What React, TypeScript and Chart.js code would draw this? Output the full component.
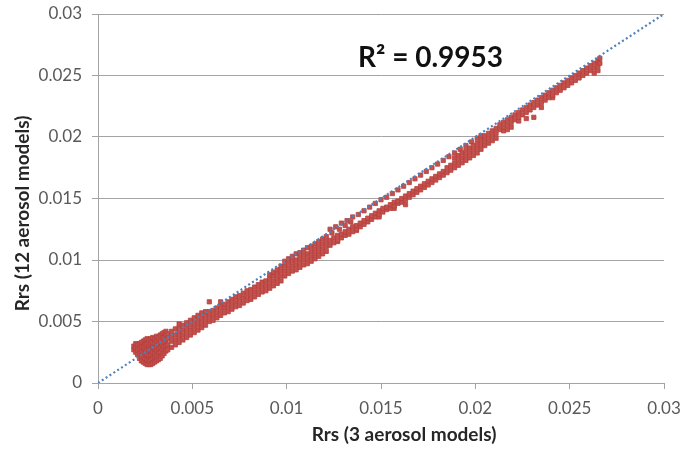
import React, { useEffect, useRef } from 'react';
import { Chart, registerables } from 'chart.js';

Chart.register(...registerables);

// ---------- data ----------
const axisMin = 0;
const axisMax = 0.03;
const tickStep = 0.005;
const tickLabels = ['0', '0.005', '0.01', '0.015', '0.02', '0.025', '0.03'];
const xTitle = 'Rrs (3 aerosol models)';
const yTitle = 'Rrs (12 aerosol models)';
const r2Label = 'R² = 0.9953';
const oneToOneX = [0, 0.03];
const oneToOneY = [0, 0.03];

// each entry: [x, list of y values observed at that x]
const blobColumns: [number, number[]][] = [
  [0.0019, [0.0027, 0.0030]],
  [0.0020, [0.0025, 0.0029, 0.0032]],
  [0.0021, [0.0023, 0.0027, 0.0031]],
  [0.0022, [0.0020, 0.0024, 0.0028, 0.0032]],
  [0.0023, [0.0018, 0.0022, 0.0026, 0.0030, 0.0033]],
  [0.0024, [0.0017, 0.0021, 0.0025, 0.0029, 0.0034]],
  [0.0025, [0.0016, 0.0020, 0.0024, 0.0028, 0.0031, 0.0035]],
  [0.0026, [0.0015, 0.0019, 0.0023, 0.0027, 0.0032, 0.0036]],
  [0.0027, [0.0015, 0.0018, 0.0022, 0.0026, 0.0030, 0.0035]],
  [0.0028, [0.0015, 0.0019, 0.0023, 0.0027, 0.0031, 0.0036]],
  [0.0029, [0.0016, 0.0020, 0.0025, 0.0029, 0.0033, 0.0037]],
  [0.0030, [0.0017, 0.0021, 0.0024, 0.0028, 0.0032, 0.0036]],
  [0.0031, [0.0018, 0.0022, 0.0026, 0.0030, 0.0034, 0.0038]],
  [0.0032, [0.0019, 0.0024, 0.0028, 0.0032, 0.0037]],
  [0.0033, [0.0020, 0.0025, 0.0029, 0.0033, 0.0039]],
  [0.0034, [0.0022, 0.0027, 0.0031, 0.0035, 0.0040]],
  [0.0035, [0.0024, 0.0029, 0.0033, 0.0037, 0.0041]],
  [0.0036, [0.0026, 0.0030, 0.0034, 0.0039, 0.0042]],
  [0.0037, [0.0027, 0.0031, 0.0036, 0.0040]],
];

const lowBandColumns: [number, number[]][] = [
  [0.0039, [0.0029, 0.0034, 0.0038, 0.0042]],
  [0.0041, [0.0031, 0.0035, 0.0039, 0.0044]],
  [0.0043, [0.0033, 0.0037, 0.0041, 0.0045, 0.0048]],
  [0.0045, [0.0035, 0.0039, 0.0043, 0.0047]],
  [0.0047, [0.0037, 0.0041, 0.0045, 0.0049]],
  [0.0049, [0.0039, 0.0043, 0.0047, 0.0051]],
  [0.0051, [0.0041, 0.0045, 0.0049, 0.0053]],
  [0.0053, [0.0043, 0.0047, 0.0051, 0.0055]],
  [0.0055, [0.0045, 0.0049, 0.0053, 0.0057]],
  [0.0057, [0.0047, 0.0051, 0.0055, 0.0058]],
  [0.0059, [0.0050, 0.0054, 0.0058, 0.0066]],
  [0.0061, [0.0051, 0.0055, 0.0059]],
  [0.0063, [0.0053, 0.0057, 0.0061]],
  [0.0065, [0.0055, 0.0059, 0.0063, 0.0066]],
  [0.0067, [0.0057, 0.0061, 0.0064]],
  [0.0069, [0.0058, 0.0062, 0.0066]],
  [0.0071, [0.0060, 0.0064, 0.0068]],
  [0.0073, [0.0062, 0.0066, 0.0070]],
  [0.0075, [0.0063, 0.0067, 0.0071]],
  [0.0077, [0.0065, 0.0069, 0.0073]],
  [0.0079, [0.0067, 0.0071, 0.0075]],
  [0.0081, [0.0068, 0.0072, 0.0076]],
  [0.0083, [0.0070, 0.0074, 0.0078]],
  [0.0085, [0.0072, 0.0076, 0.0080]],
  [0.0087, [0.0074, 0.0078, 0.0082]],
  [0.0089, [0.0075, 0.0079, 0.0083]],
  [0.0091, [0.0077, 0.0081, 0.0085, 0.0088]],
  [0.0093, [0.0079, 0.0083, 0.0087, 0.0090]],
  [0.0095, [0.0081, 0.0085, 0.0089, 0.0092]],
];

const jumpColumns: [number, number[]][] = [
  [0.0097, [0.0083, 0.0087, 0.0091, 0.0095]],
  [0.0099, [0.0087, 0.0091, 0.0095, 0.0099]],
  [0.0101, [0.0089, 0.0093, 0.0097, 0.0101]],
  [0.0103, [0.0091, 0.0095, 0.0099, 0.0103]],
  [0.0105, [0.0092, 0.0096, 0.0100, 0.0105]],
  [0.0107, [0.0094, 0.0098, 0.0102, 0.0106]],
  [0.0109, [0.0096, 0.0100, 0.0104, 0.0108]],
  [0.0111, [0.0097, 0.0101, 0.0105, 0.0110]],
  [0.0113, [0.0099, 0.0103, 0.0107, 0.0111]],
  [0.0115, [0.0101, 0.0105, 0.0109, 0.0113]],
  [0.0117, [0.0103, 0.0107, 0.0111, 0.0115]],
  [0.0119, [0.0105, 0.0109, 0.0113, 0.0117]],
  [0.0121, [0.0107, 0.0111, 0.0115, 0.0119]],
];

const upperStrandColumns: [number, number[]][] = [
  [0.0123, [0.0125]], [0.0124, [0.0122]], [0.0126, [0.0127]], [0.0128, [0.0125]],
  [0.0129, [0.0130]], [0.0131, [0.0128]], [0.0132, [0.0132]], [0.0134, [0.0131]],
  [0.0135, [0.0135]], [0.0138, [0.0137]], [0.0141, [0.0140]], [0.0144, [0.0143]],
  [0.0147, [0.0146]], [0.0150, [0.0149]], [0.0153, [0.0151]], [0.0156, [0.0154]],
  [0.0159, [0.0157]], [0.0162, [0.0160]], [0.0165, [0.0163]], [0.0168, [0.0166]],
  [0.0171, [0.0169]], [0.0174, [0.0172]], [0.0177, [0.0175]], [0.0180, [0.0178]],
  [0.0183, [0.0181]], [0.0186, [0.0184]], [0.0189, [0.0187]], [0.0192, [0.0190]],
  [0.0195, [0.0193]], [0.0198, [0.0196]],
];

const lowerStrandColumns: [number, number[]][] = [
  [0.0123, [0.0112, 0.0116]], [0.0125, [0.0114, 0.0118]], [0.0127, [0.0115, 0.0116, 0.0120]],
  [0.0129, [0.0118, 0.0121]], [0.0131, [0.0120, 0.0123]], [0.0133, [0.0121, 0.0125]],
  [0.0135, [0.0123, 0.0127]], [0.0137, [0.0124, 0.0125, 0.0128]], [0.0139, [0.0127, 0.0130]],
  [0.0141, [0.0129, 0.0132]], [0.0143, [0.0131, 0.0134]], [0.0145, [0.0133, 0.0136]],
  [0.0147, [0.0135, 0.0138]], [0.0149, [0.0135, 0.0137, 0.0140]], [0.0151, [0.0139, 0.0142]],
  [0.0153, [0.0141, 0.0143]], [0.0155, [0.0142, 0.0145]], [0.0157, [0.0142, 0.0144, 0.0147]],
  [0.0159, [0.0146, 0.0148]], [0.0161, [0.0147, 0.0150]], [0.0163, [0.0145, 0.0149, 0.0152]],
  [0.0165, [0.0151, 0.0154]], [0.0167, [0.0153, 0.0156]], [0.0169, [0.0155, 0.0158]],
  [0.0171, [0.0157, 0.0160]], [0.0173, [0.0159, 0.0162]], [0.0175, [0.0161, 0.0164]],
  [0.0177, [0.0163, 0.0166]], [0.0179, [0.0165, 0.0168]], [0.0181, [0.0167, 0.0170]],
  [0.0183, [0.0169, 0.0172]], [0.0185, [0.0171, 0.0175]], [0.0187, [0.0173, 0.0177]],
  [0.0189, [0.0175, 0.0179, 0.0183]], [0.0191, [0.0177, 0.0181, 0.0185]],
  [0.0193, [0.0179, 0.0183, 0.0187]], [0.0195, [0.0181, 0.0185, 0.0189]],
  [0.0197, [0.0183, 0.0187, 0.0191]], [0.0199, [0.0185, 0.0189, 0.0193]],
  [0.0201, [0.0187, 0.0191, 0.0195, 0.0199]], [0.0203, [0.0190, 0.0194, 0.0198, 0.0201]],
  [0.0205, [0.0193, 0.0197, 0.0201]], [0.0207, [0.0195, 0.0199, 0.0203]],
  [0.0209, [0.0197, 0.0201, 0.0205]], [0.0211, [0.0199, 0.0203, 0.0207]],
];

const topBandColumns: [number, number[]][] = [
  [0.0213, [0.0206, 0.0210]], [0.0215, [0.0205, 0.0208, 0.0212]],
  [0.0217, [0.0206, 0.0210, 0.0214]], [0.0219, [0.0208, 0.0212, 0.0216]],
  [0.0221, [0.0214, 0.0218]], [0.0223, [0.0213, 0.0216, 0.0220]],
  [0.0225, [0.0218, 0.0222]], [0.0227, [0.0215, 0.0220, 0.0224]],
  [0.0229, [0.0222, 0.0226]], [0.0231, [0.0216, 0.0224, 0.0228]],
  [0.0233, [0.0226, 0.0230]], [0.0235, [0.0224, 0.0228, 0.0232]],
  [0.0237, [0.0230, 0.0234]], [0.0239, [0.0232, 0.0236]],
  [0.0241, [0.0232, 0.0234, 0.0238]], [0.0243, [0.0236, 0.0240]],
  [0.0245, [0.0238, 0.0242]], [0.0247, [0.0240, 0.0244]],
  [0.0249, [0.0242, 0.0246]], [0.0251, [0.0244, 0.0248]],
  [0.0253, [0.0246, 0.0250]], [0.0255, [0.0248, 0.0252]],
  [0.0257, [0.0250, 0.0254]], [0.0259, [0.0252, 0.0256]],
  [0.0261, [0.0254, 0.0258]], [0.0263, [0.0252, 0.0256, 0.0260]],
  [0.0265, [0.0254, 0.0258, 0.0262]], [0.0266, [0.0260, 0.0264]],
];

const allColumns = [
  ...blobColumns,
  ...lowBandColumns,
  ...jumpColumns,
  ...upperStrandColumns,
  ...lowerStrandColumns,
  ...topBandColumns,
];

const scatterPoints = allColumns.flatMap(([x, ys]) => ys.map((y) => ({ x, y })));
const lineData = oneToOneX.map((x, i) => ({ x, y: oneToOneY[i] }));

const FONT = 'Lato, "Open Sans", sans-serif';

const textPlugin = {
  id: 'chartTexts',
  afterDraw(chart: any) {
    const { ctx, chartArea } = chart;
    ctx.save();
    ctx.fillStyle = '#262626';
    ctx.font = `bold 19px ${FONT}`;
    ctx.textAlign = 'center';
    ctx.textBaseline = 'middle';
    ctx.fillText(xTitle, (chartArea.left + chartArea.right) / 2 + 23, chart.height - 18);
    ctx.save();
    ctx.translate(23, (chartArea.top + chartArea.bottom) / 2 + 15);
    ctx.rotate(-Math.PI / 2);
    ctx.fillText(yTitle, 0, 0);
    ctx.restore();
    ctx.fillStyle = '#111111';
    ctx.font = `bold 28px ${FONT}`;
    ctx.textAlign = 'left';
    ctx.textBaseline = 'alphabetic';
    ctx.fillText(r2Label, chartArea.left + 260, chartArea.top + 53);
    ctx.restore();
  },
};

export default function App() {
  const canvasRef = useRef<HTMLCanvasElement | null>(null);

  useEffect(() => {
    const canvas = canvasRef.current;
    if (!canvas) return;
    Chart.defaults.font.family = FONT;
    const gridColor = '#a3a3a3';
    const chart = new Chart(canvas, {
      type: 'scatter',
      data: {
        datasets: [
          {
            type: 'line',
            data: lineData,
            borderColor: '#4f81bd',
            borderWidth: 2.2,
            borderDash: [2, 2.6],
            pointRadius: 0,
            fill: false,
            order: 0,
          } as any,
          {
            data: scatterPoints,
            pointStyle: 'rect',
            pointRadius: 3,
            backgroundColor: '#c4504c',
            borderColor: '#b5403d',
            borderWidth: 0.8,
            order: 1,
          },
        ],
      },
      plugins: [textPlugin],
      options: {
        animation: false,
        responsive: true,
        maintainAspectRatio: false,
        layout: { autoPadding: false, padding: { left: 0, top: 14, right: 18, bottom: 0 } },
        plugins: {
          legend: { display: false },
          tooltip: { enabled: false },
        },
        scales: {
          x: {
            type: 'linear',
            min: axisMin,
            max: axisMax,
            afterFit: (s: any) => {
              s.height = 70;
              s.paddingLeft = 0;
              s.paddingRight = 0;
            },
            ticks: {
              stepSize: tickStep,
              color: '#595959',
              font: { size: 17, family: FONT },
              padding: 9,
              maxRotation: 0,
              callback: (_v: any, i: number) => tickLabels[i],
            },
            grid: {
              drawOnChartArea: false,
              drawTicks: true,
              tickLength: 6,
              color: gridColor,
            },
            border: { display: true, color: gridColor },
          },
          y: {
            type: 'linear',
            min: axisMin,
            max: axisMax,
            afterFit: (s: any) => {
              s.width = 98;
              s.paddingTop = 0;
              s.paddingBottom = 0;
            },
            ticks: {
              stepSize: tickStep,
              color: '#595959',
              font: { size: 17, family: FONT },
              padding: 10,
              callback: (_v: any, i: number) => tickLabels[i],
            },
            grid: {
              drawOnChartArea: true,
              drawTicks: true,
              tickLength: 6,
              color: gridColor,
            },
            border: { display: true, color: gridColor },
          },
        },
      },
    });
    return () => chart.destroy();
  }, []);

  return (
    <div style={{ position: 'absolute', left: 0, top: 0, width: 682, height: 453, background: '#fff' }}>
      <canvas ref={canvasRef} />
    </div>
  );
}
